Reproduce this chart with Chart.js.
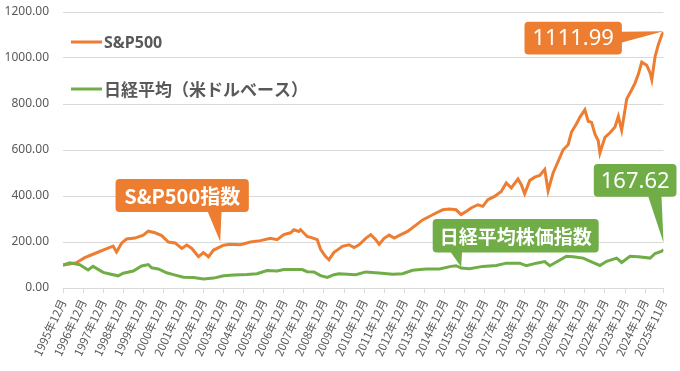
<!DOCTYPE html>
<html lang="ja">
<head>
<meta charset="UTF-8">
<title>S&amp;P500と日経平均（米ドルベース）</title>
<script src="https://cdn.jsdelivr.net/npm/chart.js"></script>
<style>
  html, body { margin: 0; padding: 0; background: #fff; }
  #wrap { width: 680px; height: 371px; }
</style>
</head>
<body>
<div id="wrap"><canvas id="chart" width="680" height="371"></canvas></div>
<script>
// month index 0 = 1995年12月, 359 = 2025年11月
const tickMonths = [0, 12, 24, 36, 48, 60, 72, 84, 96, 108, 120, 132, 144, 156, 168, 180,
  192, 204, 216, 228, 240, 252, 264, 276, 288, 300, 312, 324, 336, 348, 359];
const tickLabels = ['1995年12月', '1996年12月', '1997年12月', '1998年12月', '1999年12月',
  '2000年12月', '2001年12月', '2002年12月', '2003年12月', '2004年12月', '2005年12月',
  '2006年12月', '2007年12月', '2008年12月', '2009年12月', '2010年12月', '2011年12月',
  '2012年12月', '2013年12月', '2014年12月', '2015年12月', '2016年12月', '2017年12月',
  '2018年12月', '2019年12月', '2020年12月', '2021年12月', '2022年12月', '2023年12月',
  '2024年12月', '2025年11月'];
const yTicks = [0, 200, 400, 600, 800, 1000, 1200];

const spMonths = [0, 4, 8, 13, 19, 25, 30, 32, 35, 38, 43, 48, 51, 55, 59, 63, 67, 71, 74, 77,
  81, 84, 87, 90, 96, 100, 106, 112, 118, 124, 128, 132, 136, 138, 141, 142, 146, 149, 152, 154,
  157, 159, 162, 165, 167, 171, 174, 177, 181, 184, 187, 189, 192, 195, 198, 202, 206, 210, 215, 219,
  223, 227, 231, 235, 238, 241, 244, 248, 251, 254, 258, 262, 265, 268, 272, 274, 276, 279, 282, 285,
  288, 290, 293, 296, 299, 302, 304, 307, 309, 312, 314, 316, 318, 320, 321, 324, 327, 330, 332, 334,
  336, 337, 340, 342, 344, 346, 349, 351, 352, 354, 356, 358, 359];
const spValues = [100, 104, 110, 132, 150, 168, 182, 157, 195, 213, 217, 230, 247, 240, 228, 200, 196, 172, 187, 172,
  136, 154, 136, 165, 186, 190, 188, 200, 206, 216, 210, 232, 240, 253, 246, 254, 224, 218, 210, 168,
  137, 123, 155, 170, 181, 188, 176, 188, 216, 232, 210, 190, 216, 230, 217, 232, 246, 268, 296, 311,
  326, 340, 343, 340, 319, 333, 348, 362, 355, 384, 398, 420, 457, 435, 474, 449, 410, 467, 482, 489,
  515, 423, 500, 550, 601, 623, 678, 714, 742, 775, 725, 720, 670, 640, 587, 655, 675, 700, 746, 686,
  775, 822, 862, 891, 930, 982, 968, 935, 906, 1007, 1060, 1100, 1111.99];

const nkMonths = [0, 4, 10, 15, 18, 24, 28, 33, 36, 42, 47, 51, 53, 57, 62, 66, 72, 78, 84, 90,
  96, 102, 110, 116, 122, 128, 132, 138, 143, 146, 150, 154, 158, 162, 165, 175, 181, 189, 197, 203,
  209, 217, 225, 232, 235, 238, 243, 251, 259, 265, 273, 277, 283, 288, 291, 295, 301, 305, 311, 317,
  321, 325, 331, 334, 339, 344, 351, 354, 358, 359];
const nkValues = [100, 110, 101, 78, 94, 68, 61, 53, 64, 74, 96, 102, 88, 83, 66, 58, 47, 46, 39, 43,
  53, 57, 59, 62, 76, 74, 80, 80, 80, 71, 70, 54, 46, 58, 62, 58, 70, 65, 60, 62,
  77, 83, 83, 94, 97, 87, 84, 94, 98, 108, 108, 97, 108, 115, 97, 113, 138, 136, 130, 110,
  98, 116, 130, 111, 138, 136, 130, 150, 160, 167.62];

const ORANGE = '#ED7D31';
const GREEN = '#70AD47';
const GRAY = '#595959';
const GRID = '#D9D9D9';

const legendItems = [
  { label: 'S&P500', color: ORANGE, font: 'bold 16px "Noto Sans", sans-serif', dy: 30 },
  { label: '日経平均（米ドルベース）', color: GREEN, font: 'bold 17px "Noto Sans CJK JP", sans-serif', dy: 77 }
];

// tip anchored on data; box and pointer base are offsets from the tip in px
const callouts = [
  { text: '1111.99', color: ORANGE, font: '22px "Noto Sans", sans-serif', x: 359, y: 1111.99, tipDy: -1,
    box: [-139, -9.5, 97.4, 32.7], base: [[-42.5, 0.5], [-42.5, 11.5]] },
  { text: 'S&P500指数', color: ORANGE, font: 'bold 20px "Noto Sans CJK JP", sans-serif', x: 94, y: 201, tipDy: 0,
    box: [-104.7, -62.7, 133.3, 33], base: [[-12.7, -30.5], [1.3, -30.5]] },
  { text: '167.62', color: GREEN, font: '22px "Noto Sans", sans-serif', x: 359, y: 167.62, tipDy: -7,
    box: [-69.7, -78.4, 82.7, 32.7], base: [[-15.4, -46.5], [-2, -46.5]] },
  { text: '日経平均株価指数', color: GREEN, font: 'bold 19px "Noto Sans CJK JP", sans-serif', x: 238, y: 91, tipDy: 0,
    box: [-28.4, -48, 166, 33.4], base: [[-10.7, -15.4], [1, -15.4]] }
];

function roundRect(ctx, x, y, w, h, r) {
  ctx.beginPath();
  ctx.moveTo(x + r, y);
  ctx.lineTo(x + w - r, y);
  ctx.quadraticCurveTo(x + w, y, x + w, y + r);
  ctx.lineTo(x + w, y + h - r);
  ctx.quadraticCurveTo(x + w, y + h, x + w - r, y + h);
  ctx.lineTo(x + r, y + h);
  ctx.quadraticCurveTo(x, y + h, x, y + h - r);
  ctx.lineTo(x, y + r);
  ctx.quadraticCurveTo(x, y, x + r, y);
  ctx.closePath();
}

const overlayPlugin = {
  id: 'overlay',
  afterDatasetsDraw(chart) {
    const ctx = chart.ctx;
    const area = chart.chartArea;
    const xs = chart.scales.x, ys = chart.scales.y;
    ctx.save();

    // legend inside the plot
    legendItems.forEach(item => {
      const y = area.top + item.dy;
      const x0 = area.left + 8;
      ctx.strokeStyle = item.color;
      ctx.lineWidth = 3;
      ctx.beginPath();
      ctx.moveTo(x0, y);
      ctx.lineTo(x0 + 31, y);
      ctx.stroke();
      ctx.fillStyle = GRAY;
      ctx.font = item.font;
      ctx.textAlign = 'left';
      ctx.textBaseline = 'middle';
      ctx.fillText(item.label, x0 + 33, y + 1);
    });

    // callouts
    callouts.forEach(c => {
      const tx = xs.getPixelForValue(c.x);
      const ty = ys.getPixelForValue(c.y) + c.tipDy;
      const [bx, by, bw, bh] = c.box;
      ctx.fillStyle = c.color;
      roundRect(ctx, tx + bx, ty + by, bw, bh, 4);
      ctx.fill();
      ctx.beginPath();
      ctx.moveTo(tx + c.base[0][0], ty + c.base[0][1]);
      ctx.lineTo(tx + c.base[1][0], ty + c.base[1][1]);
      ctx.lineTo(tx, ty);
      ctx.closePath();
      ctx.fill();
      ctx.fillStyle = '#FFFFFF';
      ctx.font = c.font;
      ctx.textAlign = 'center';
      ctx.textBaseline = 'middle';
      ctx.fillText(c.text, tx + bx + bw / 2, ty + by + bh / 2 + 1);
    });
    ctx.restore();
  }
};

const toPoints = (months, values) => months.map((m, i) => ({ x: m, y: values[i] }));

new Chart(document.getElementById('chart'), {
  type: 'line',
  data: {
    datasets: [
      { label: 'S&P500', data: toPoints(spMonths, spValues), borderColor: ORANGE, borderWidth: 3,
        pointRadius: 0, tension: 0, order: 2 },
      { label: '日経平均（米ドルベース）', data: toPoints(nkMonths, nkValues), borderColor: GREEN, borderWidth: 3,
        pointRadius: 0, tension: 0, order: 1 }
    ]
  },
  options: {
    responsive: false,
    animation: false,
    layout: { padding: { top: 12, right: 15, left: 0, bottom: 0 } },
    plugins: { legend: { display: false }, tooltip: { enabled: false } },
    scales: {
      x: {
        type: 'linear', min: 0, max: 359,
        afterBuildTicks: s => { s.ticks = tickMonths.map(v => ({ value: v })); },
        afterFit: s => { s.height = 83; },
        grid: { drawOnChartArea: false, drawTicks: true, tickLength: 5, color: GRID },
        border: { color: GRID },
        ticks: {
          autoSkip: false, minRotation: 65, maxRotation: 65, padding: 4, color: GRAY,
          font: { family: '"Noto Sans CJK JP"', size: 11.5 },
          callback: (v, i) => tickLabels[i]
        }
      },
      y: {
        min: 0, max: 1200,
        afterBuildTicks: s => { s.ticks = yTicks.map(v => ({ value: v })); },
        afterFit: s => { s.width = 63; s.paddingTop = 0; s.paddingBottom = 0; },
        grid: { color: GRID, drawTicks: false },
        border: { display: false },
        ticks: { padding: 14, color: GRAY, font: { family: '"Noto Sans"', size: 12 },
          callback: v => Number(v).toFixed(2) }
      }
    }
  },
  plugins: [overlayPlugin]
});
</script>
</body>
</html>
